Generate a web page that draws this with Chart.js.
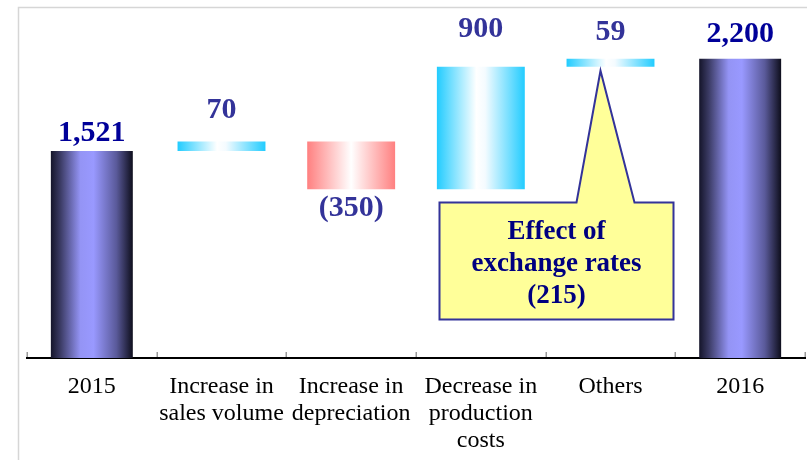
<!DOCTYPE html>
<html>
<head>
<meta charset="utf-8">
<script src="https://cdn.jsdelivr.net/npm/chart.js@4"></script>
<style>
  html, body { margin: 0; padding: 0; background: #ffffff; }
  #wrap { width: 807px; height: 460px; position: relative; }
</style>
</head>
<body>
<div id="wrap"><canvas id="c" width="807" height="460"></canvas></div>
<script>
// Operating income bridge, 2015 -> 2016
const categories = [
  '2015',
  ['Increase in', 'sales volume'],
  ['Increase in', 'depreciation'],
  ['Decrease in', 'production', 'costs'],
  'Others',
  '2016'
];
const totals  = [1521, null, null, null, null, 2200];
const changes = [null, 70, -350, 900, 59, null];
const exchangeEffect = -215;   // part of "Others", shown in the callout

// Floating ranges for the change bars, stacked on the running total
const changeRanges = [];
let running = totals[0];
changes.forEach(v => {
  if (v === null) { changeRanges.push(null); return; }
  changeRanges.push([running, running + v]);
  running += v;
});

const fmt = v => v < 0 ? '(' + Math.abs(v).toLocaleString('en-US') + ')' : v.toLocaleString('en-US');

// label baseline distance from the bar end
const labelGap = [10, 24, 27, 30, 19, 17];

function barGradient(ctx, chart, index, pct, stops) {
  const xs = chart.scales.x;
  if (!xs || !chart.chartArea) return stops[0][1];
  const cx = xs.getPixelForValue(index);
  const half = (xs.width / categories.length) * pct / 2;
  const g = chart.ctx.createLinearGradient(cx - half, 0, cx + half, 0);
  stops.forEach(s => g.addColorStop(s[0], s[1]));
  return g;
}

const totalStops = [[0, '#15152a'], [0.12, '#3c3c66'], [0.36, '#9494f5'], [0.52, '#9999ff'], [0.8, '#5a5a9a'], [1, '#0e0e1c']];
const upStops    = [[0, '#22ccff'], [0.45, '#ffffff'], [0.55, '#f4fbff'], [1, '#22ccff']];
const downStops  = [[0, '#ff8080'], [0.5, '#ffffff'], [1, '#ff8080']];

const TOTAL_PCT = 0.632;
const CHANGE_PCT = 0.678;

const framePlugin = {
  id: 'frame',
  beforeDraw(chart) {
    const c = chart.ctx;
    c.save();
    c.fillStyle = '#ffffff';
    c.fillRect(0, 0, chart.width, chart.height);
    c.strokeStyle = '#d6d6d6';
    c.lineWidth = 1.5;
    c.beginPath();
    c.moveTo(18.5, chart.height);
    c.lineTo(18.5, 7.5);
    c.lineTo(chart.width, 7.5);
    c.stroke();
    c.restore();
  }
};

const tickPlugin = {
  id: 'boundaryTicks',
  afterDraw(chart) {
    const xs = chart.scales.x;
    const c = chart.ctx;
    const w = xs.width / categories.length;
    const y0 = chart.chartArea.bottom;
    c.save();
    c.strokeStyle = '#999999';
    c.lineWidth = 1.5;
    for (let i = 0; i <= categories.length; i++) {
      const x = Math.round(xs.left + i * w) + 0.25;
      c.beginPath();
      c.moveTo(x, y0 - 6);
      c.lineTo(x, y0 - 1);
      c.stroke();
    }
    c.restore();
  }
};

const labelPlugin = {
  id: 'valueLabels',
  afterDatasetsDraw(chart) {
    const c = chart.ctx;
    const ys = chart.scales.y;
    const xs = chart.scales.x;
    c.save();
    c.font = 'bold 30px "Liberation Serif", "Times New Roman", serif';
    c.textAlign = 'center';
    c.textBaseline = 'alphabetic';
    categories.forEach((_, i) => {
      const x = xs.getPixelForValue(i);
      if (totals[i] !== null) {
        c.fillStyle = '#000099';
        c.fillText(fmt(totals[i]), x, ys.getPixelForValue(totals[i]) - labelGap[i]);
      } else {
        const r = changeRanges[i];
        c.fillStyle = '#333399';
        if (changes[i] >= 0) {
          c.fillText(fmt(changes[i]), x, ys.getPixelForValue(Math.max(r[0], r[1])) - labelGap[i]);
        } else {
          c.fillText(fmt(changes[i]), x, ys.getPixelForValue(Math.min(r[0], r[1])) + labelGap[i]);
        }
      }
    });
    c.restore();
  }
};

const calloutPlugin = {
  id: 'callout',
  afterDraw(chart) {
    const c = chart.ctx;
    const xs = chart.scales.x;
    const ys = chart.scales.y;
    const w = xs.width / categories.length;
    const oi = 4;                         // "Others"
    const ox = xs.getPixelForValue(oi);
    const left = Math.round(xs.getPixelForValue(3) - 0.32 * w) + 0.5;
    const right = Math.round(ox + 0.5 * w - 2) + 0.5;
    const top = Math.round(ys.getPixelForValue(1145)) + 0.5;
    const bottom = Math.round(ys.getPixelForValue(285)) + 0.5;
    const tipX = ox - 10;
    const tipY = ys.getPixelForValue(Math.min(...changeRanges[oi])) + 4;
    const b1 = ox - 34, b2 = ox + 24;

    c.save();
    c.beginPath();
    c.moveTo(left, top);
    c.lineTo(b1, top);
    c.lineTo(tipX, tipY);
    c.lineTo(b2, top);
    c.lineTo(right, top);
    c.lineTo(right, bottom);
    c.lineTo(left, bottom);
    c.closePath();
    c.fillStyle = '#ffff99';
    c.fill();
    c.strokeStyle = '#333399';
    c.lineWidth = 2;
    c.lineJoin = 'miter';
    c.stroke();

    c.fillStyle = '#000080';
    c.font = 'bold 27px "Liberation Serif", "Times New Roman", serif';
    c.textAlign = 'center';
    c.textBaseline = 'alphabetic';
    const cx = (left + right) / 2;
    const lines = ['Effect of', 'exchange rates', fmt(exchangeEffect)];
    lines.forEach((t, k) => c.fillText(t, cx, top + 36 + k * 32));
    c.restore();
  }
};

new Chart(document.getElementById('c'), {
  type: 'bar',
  data: {
    labels: categories,
    datasets: [
      {
        label: 'Total',
        data: totals,
        grouped: false,
        categoryPercentage: 1,
        barPercentage: TOTAL_PCT,
        borderWidth: 0,
        backgroundColor: ctx => barGradient(ctx, ctx.chart, ctx.dataIndex, TOTAL_PCT, totalStops)
      },
      {
        label: 'Change',
        data: changeRanges,
        grouped: false,
        categoryPercentage: 1,
        barPercentage: CHANGE_PCT,
        borderWidth: 0,
        borderSkipped: false,
        backgroundColor: ctx => {
          const v = changes[ctx.dataIndex];
          return barGradient(ctx, ctx.chart, ctx.dataIndex, CHANGE_PCT, v !== null && v < 0 ? downStops : upStops);
        }
      }
    ]
  },
  options: {
    responsive: false,
    animation: false,
    events: [],
    layout: { padding: { left: 27, right: 2, top: 7, bottom: 0 } },
    plugins: { legend: { display: false }, tooltip: { enabled: false } },
    scales: {
      y: { display: false, min: 0, max: 2580 },
      x: {
        grid: { display: false, drawTicks: false },
        border: { display: true, color: '#000000', width: 2 },
        ticks: {
          color: '#000000',
          padding: 15,
          autoSkip: false,
          maxRotation: 0,
          font: { family: '"Liberation Serif", "Times New Roman", serif', size: 24, lineHeight: '27px' }
        },
        afterFit(scale) { scale.height = 102; }
      }
    }
  },
  plugins: [framePlugin, tickPlugin, labelPlugin, calloutPlugin]
});
</script>
</body>
</html>
